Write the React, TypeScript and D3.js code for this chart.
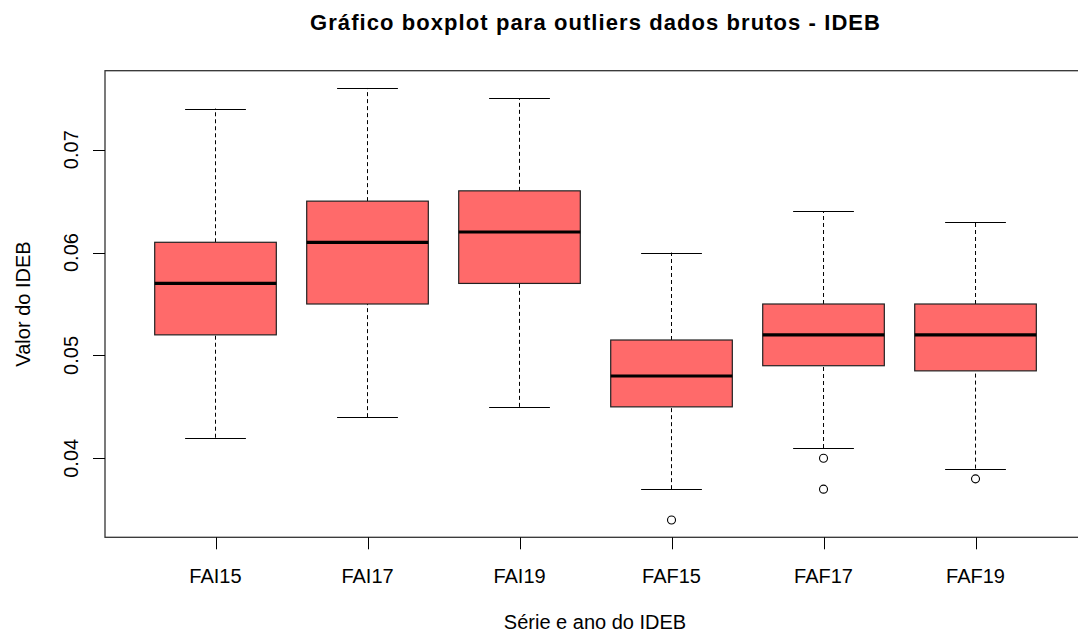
import * as d3 from "d3"
import React, { useEffect, useRef } from "react"

// Boxplot statistics
const categories = ["FAI15", "FAI17", "FAI19", "FAF15", "FAF17", "FAF19"]
const whiskerLow = [0.042, 0.044, 0.045, 0.037, 0.041, 0.039]
const q1 = [0.052, 0.055, 0.057, 0.045, 0.049, 0.0485]
const median = [0.057, 0.061, 0.062, 0.048, 0.052, 0.052]
const q3 = [0.061, 0.065, 0.066, 0.0515, 0.055, 0.055]
const whiskerHigh = [0.074, 0.076, 0.075, 0.06, 0.064, 0.063]
const outliers = [[], [], [], [0.034], [0.04, 0.037], [0.038]]
const yTicks = [0.04, 0.05, 0.06, 0.07]

const title = "Gráfico boxplot para outliers dados brutos - IDEB"
const xLabel = "Série e ano do IDEB"
const yLabel = "Valor do IDEB"

const width = 1078
const height = 633
const font = "Liberation Sans, Arial, sans-serif"

const App = () => {
    const refSvg = useRef<SVGSVGElement>(null)

    useEffect(() => {
        const svg = d3.select(refSvg.current)
        svg.selectAll("*").remove()

        const plot = { left: 105, right: 1088, top: 70.7, bottom: 537.3 }

        // R style limits: data range padded by 4%
        const scaleX = d3.scaleLinear()
                        .domain([0.273, 6.74])
                        .range([plot.left, plot.right])
        const scaleY = d3.scaleLinear()
                        .domain([0.03232, 0.07768])
                        .range([plot.bottom, plot.top])
        const boxHalf = (scaleX(1.4) - scaleX(1)) // boxwex 0.8
        const capHalf = boxHalf / 2

        const rows = categories.map((c, i) => ({
            name: c, x: scaleX(i + 1),
            lo: whiskerLow[i], q1: q1[i], med: median[i], q3: q3[i], hi: whiskerHigh[i],
            out: outliers[i]
        }))

        const g = svg.append("g")

        // whiskers (dashed)
        g.selectAll(".whisker-low")
            .data(rows)
            .join("line")
            .attr("x1", d => d.x).attr("x2", d => d.x)
            .attr("y1", d => scaleY(d.lo)).attr("y2", d => scaleY(d.q1))
            .attr("stroke", "#000").attr("stroke-dasharray", "4,3")
        g.selectAll(".whisker-high")
            .data(rows)
            .join("line")
            .attr("x1", d => d.x).attr("x2", d => d.x)
            .attr("y1", d => scaleY(d.q3)).attr("y2", d => scaleY(d.hi))
            .attr("stroke", "#000").attr("stroke-dasharray", "4,3")

        // staples
        for (const key of ["lo", "hi"] as const) {
            g.selectAll(`.cap-${key}`)
                .data(rows)
                .join("line")
                .attr("x1", d => d.x - capHalf).attr("x2", d => d.x + capHalf)
                .attr("y1", d => Math.round(scaleY(d[key])) + 0.5)
                .attr("y2", d => Math.round(scaleY(d[key])) + 0.5)
                .attr("stroke", "#000")
        }

        // boxes
        g.selectAll(".box")
            .data(rows)
            .join("rect")
            .attr("x", d => d.x - boxHalf)
            .attr("width", boxHalf * 2)
            .attr("y", d => scaleY(d.q3))
            .attr("height", d => scaleY(d.q1) - scaleY(d.q3))
            .attr("fill", "#FF6A6A")
            .attr("stroke", "#222")
            .attr("stroke-width", 1.2)

        // medians
        g.selectAll(".median")
            .data(rows)
            .join("line")
            .attr("x1", d => d.x - boxHalf).attr("x2", d => d.x + boxHalf)
            .attr("y1", d => scaleY(d.med)).attr("y2", d => scaleY(d.med))
            .attr("stroke", "#000").attr("stroke-width", 3.2)

        // outliers
        const pts = rows.flatMap(d => d.out.map(v => ({ x: d.x, v })))
        g.selectAll(".outlier")
            .data(pts)
            .join("circle")
            .attr("cx", d => d.x).attr("cy", d => scaleY(d.v))
            .attr("r", 4)
            .attr("fill", "none").attr("stroke", "#000").attr("stroke-width", 1.1)

        // frame
        svg.append("rect")
            .attr("x", plot.left).attr("y", plot.top)
            .attr("width", plot.right - plot.left)
            .attr("height", plot.bottom - plot.top)
            .attr("fill", "none").attr("stroke", "#333").attr("stroke-width", 1.3)

        // x axis ticks + labels
        const gx = svg.append("g")
        gx.selectAll("line")
            .data(rows)
            .join("line")
            .attr("x1", d => Math.round(d.x) + 0.5).attr("x2", d => Math.round(d.x) + 0.5)
            .attr("y1", plot.bottom).attr("y2", plot.bottom + 12)
            .attr("stroke", "#000")
        gx.selectAll("text")
            .data(rows)
            .join("text")
            .attr("x", d => d.x).attr("y", 583)
            .attr("text-anchor", "middle")
            .attr("font-family", font).attr("font-size", 20)
            .text(d => d.name)

        // y axis ticks + labels
        const gy = svg.append("g")
        gy.selectAll("line")
            .data(yTicks)
            .join("line")
            .attr("x1", plot.left - 12).attr("x2", plot.left)
            .attr("y1", d => Math.round(scaleY(d)) + 0.5).attr("y2", d => Math.round(scaleY(d)) + 0.5)
            .attr("stroke", "#000")
        gy.selectAll("text")
            .data(yTicks)
            .join("text")
            .attr("transform", d => `translate(78, ${scaleY(d)}) rotate(-90)`)
            .attr("text-anchor", "middle")
            .attr("font-family", font).attr("font-size", 20)
            .text(d => d3.format(".2f")(d))

        // titles
        svg.append("text")
            .attr("x", 310).attr("y", 30)
            .attr("textLength", 570)
            .attr("lengthAdjust", "spacing")
            .attr("font-family", font).attr("font-size", 22).attr("font-weight", "bold")
            .text(title)
        svg.append("text")
            .attr("x", 595).attr("y", 629)
            .attr("text-anchor", "middle")
            .attr("font-family", font).attr("font-size", 20)
            .text(xLabel)
        svg.append("text")
            .attr("transform", `translate(30, ${(plot.top + plot.bottom) / 2}) rotate(-90)`)
            .attr("text-anchor", "middle")
            .attr("font-family", font).attr("font-size", 20)
            .text(yLabel)
    }, [])

    return (
        <svg ref={refSvg} width={width} height={height}
            style={{ position: "fixed", left: 0, top: 0, background: "#fff" }} />
    )
}

export default App
